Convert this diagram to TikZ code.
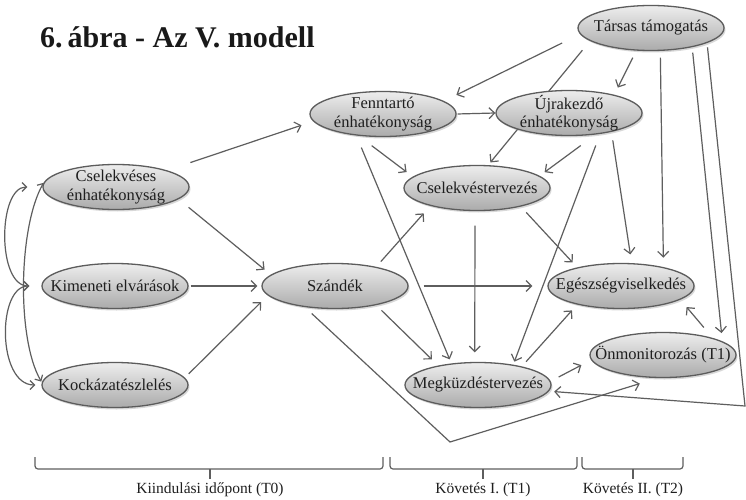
\documentclass[tikz,border=0pt]{standalone}
\usepackage{fontspec}
\setmainfont{Liberation Serif}
\usetikzlibrary{shapes.geometric,arrows.meta,shadows,backgrounds}
\tikzset{
  ell/.style={ellipse, minimum width=146pt, minimum height=45pt, inner sep=0pt,
    draw=black!64, line width=1.3pt, top color=black!7, bottom color=black!33,
    drop shadow={shadow xshift=1.5pt, shadow yshift=-2pt, opacity=.3}},
  txt/.style={font=\fontsize{16.5}{18.5}\selectfont, text=black!88, align=center, inner sep=0pt},
  arr/.style={draw=black!63, line width=1.2pt, -{Straight Barb[length=5.5pt,width=11pt]}},
  corr/.style={draw=black!63, line width=1.2pt, {Straight Barb[length=4.5pt,width=9pt]}-{Straight Barb[length=4.5pt,width=9pt]}},
  brk/.style={draw=black!63, line width=1.2pt, rounded corners=3pt},
  lab/.style={font=\fontsize{15.5}{17}\selectfont, text=black!88, inner sep=0pt}
}
\begin{document}
\begin{tikzpicture}[x=1pt,y=-1pt]
\useasboundingbox (0,0) rectangle (746,500);
\node[anchor=base west, inner sep=0pt, font=\fontsize{30}{34}\bfseries\selectfont, text=black!90] (title) at (40,48) {6.\,ábra - Az V. modell};

\node[ell, label={[txt]center:Társas támogatás}] (tar) at (651,28) {};
\node[ell, label={[txt]center:Fenntartó\\énhatékonyság}] (fen) at (383,114) {};
\node[ell, label={[txt]center:Újrakezdő\\énhatékonyság}] (ujr) at (569,113) {};
\node[ell, label={[txt]center:Cselekvéstervezés}] (csv) at (477,188) {};
\node[ell, label={[txt]center:Cselekvéses\\énhatékonyság}] (cse) at (116,187) {};
\node[ell, label={[txt]center:Kimeneti elvárások}] (kim) at (115,286) {};
\node[ell, label={[txt]center:Kockázatészlelés}] (koc) at (115,385) {};
\node[ell, label={[txt]center:Szándék}] (sza) at (335,286) {};
\node[ell, label={[txt]center:Egészségviselkedés}] (ege) at (621,286) {};
\node[ell, label={[txt]center:Önmonitorozás (T1)}] (onm) at (663,355) {};
\node[ell, label={[txt]center:Megküzdéstervezés}] (meg) at (478,385) {};

\coordinate (c1) at (745,406);
\coordinate (c2) at (450,442);

\begin{pgfonlayer}{background}
\fill[white] (0,0) rectangle (746,500);
\draw[arr, shorten <=24.5pt, shorten >=12.3pt] (cse.18) -- (fen.186);
\draw[arr, shorten <=12.9pt, shorten >=8pt] (cse.-11) -- (sza.170);
\draw[arr, shorten <=2pt, shorten >=4pt] (kim.0) -- (sza.180);
\draw[arr, shorten <=5.4pt, shorten >=9.5pt] (koc.6) -- (sza.188);
\draw[corr, shorten <=15pt, shorten >=12pt] (cse.west) to[out=180,in=180,looseness=1.15] (kim.west);
\draw[corr, shorten <=12pt, shorten >=6pt] (kim.west) to[out=180,in=180,looseness=1.15] (koc.west);
\draw[corr, shorten <=1pt, shorten >=1pt] (cse.176) to[out=240,in=120,looseness=0.65] (koc.178);

\draw[arr, shorten <=19.9pt, shorten >=13.8pt] (tar.185) -- (fen.12);
\draw[arr, shorten <=12pt, shorten >=3.5pt] (tar.192) -- (csv.64);
\draw[arr, shorten <=7.8pt, shorten >=8pt] (tar.237) -- (ujr.22);
\draw[arr, shorten <=18.5pt, shorten >=6.2pt] (ujr.-39) -- (csv.11);
\draw[arr, shorten <=12.3pt, shorten >=3.2pt] (ujr.-34) -- (meg.30);
\draw[arr, shorten <=8.6pt, shorten >=8.8pt] (ujr.-24) -- (ege.65);
\draw[arr, shorten <=6.7pt, shorten >=9.4pt] (tar.-68) -- (ege.24);
\draw[arr, shorten <=5.4pt, shorten >=8.3pt] (tar.-25) -- (onm.13);
\draw[arr, shorten <=4.3pt, shorten >=5.2pt] (tar.-15) -- (c1) -- (meg.-5);
\draw[arr, shorten <=9.4pt, shorten >=18.7pt] (sza.215) -- (c2) -- (onm.257);

\draw[arr, shorten <=1pt] (fen.0) -- (ujr.180);
\draw[arr, shorten <=16.2pt, shorten >=7.7pt] (fen.222) -- (csv.170);
\draw[arr, shorten <=12.9pt, shorten >=4.4pt] (fen.219) -- (meg.141);
\draw[arr, shorten <=7pt, shorten >=10pt] (sza.25) -- (csv.201);
\draw[arr, shorten <=15pt, shorten >=15pt] (sza.0) -- (ege.180);
\draw[arr, shorten <=7.4pt, shorten >=8.8pt] (sza.-25) -- (meg.154);
\draw[arr, shorten <=14.5pt, shorten >=9.5pt] (csv.265) -- (meg.98);
\draw[arr, shorten <=7.9pt, shorten >=6.7pt] (csv.-23) -- (ege.157);
\draw[arr, shorten <=6.4pt, shorten >=7.8pt] (meg.23) -- (ege.203);
\draw[arr, shorten <=9.1pt, shorten >=11pt] (meg.3) -- (onm.184);
\draw[arr, shorten <=13.6pt, shorten >=9.6pt] (onm.19) -- (ege.-13);
\end{pgfonlayer}

% time brackets
\draw[brk] (35,457) -- (35,469) -- (383,469) -- (383,457);
\draw[brk] (210,469) -- (210,479);
\draw[brk] (390,457) -- (390,469) -- (577,469) -- (577,457);
\draw[brk] (483,469) -- (483,479);
\draw[brk] (582,457) -- (582,469) -- (683,469) -- (683,457);
\draw[brk] (633,469) -- (633,479);
\node[lab] (t0) at (210,490) {Kiindulási időpont (T0)};
\node[lab] (t1) at (483,490) {Követés I. (T1)};
\node[lab] (t2) at (633,490) {Követés II. (T2)};
\end{tikzpicture}
\end{document}
